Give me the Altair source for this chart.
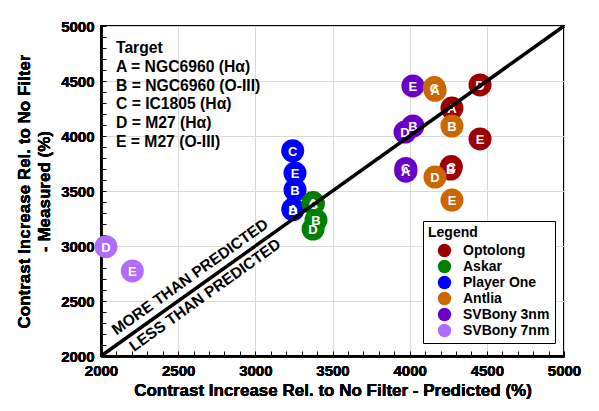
"""Scatter of measured vs predicted contrast increase for narrowband filters."""

import altair as alt
import pandas as pd


FONT = "Liberation Sans"
PLOT_WIDTH = 463
PLOT_HEIGHT = 330

brands = ["Optolong", "Askar", "Player One", "Antlia", "SVBony 3nm", "SVBony 7nm"]
brand_colors = ["#9c0000", "#008000", "#0000ff", "#cc6600", "#6a00c8", "#b26bff"]
draw_rank = [3, 2, 1, 5, 4, 6]

optolong_targets = ["A", "B", "C", "D", "E"]
optolong_pred = [4274, 4265, 4270, 4456, 4456]
optolong_meas = [4254, 3700, 3722, 4464, 3973]

askar_targets = ["A", "C", "B", "D"]
askar_pred = [3374, 3376, 3393, 3374]
askar_meas = [3395, 3385, 3236, 3154]

player_one_targets = ["D", "A", "B", "E", "C"]
player_one_pred = [3244, 3244, 3257, 3257, 3242]
player_one_meas = [3330, 3336, 3509, 3663, 3866]

antlia_targets = ["A", "C", "B", "D", "E"]
antlia_pred = [4165, 4160, 4274, 4164, 4274]
antlia_meas = [4415, 4440, 4091, 3627, 3418]

svbony3_targets = ["A", "C", "D", "B", "E"]
svbony3_pred = [3975, 3975, 3970, 4021, 4021]
svbony3_meas = [3680, 3705, 4036, 4091, 4455]

svbony7_targets = ["D", "E"]
svbony7_pred = [2032, 2203]
svbony7_meas = [2994, 2773]

target_lines = [
    "Target",
    "A = NGC6960 (Hα)",
    "B = NGC6960 (O-III)",
    "C = IC1805 (Hα)",
    "D = M27 (Hα)",
    "E = M27 (O-III)",
]

axis_range = [2000, 5000]
tick_values = list(range(2000, 5001, 100))
grid_values = list(range(2000, 5001, 500))

series = [
    (optolong_targets, optolong_pred, optolong_meas),
    (askar_targets, askar_pred, askar_meas),
    (player_one_targets, player_one_pred, player_one_meas),
    (antlia_targets, antlia_pred, antlia_meas),
    (svbony3_targets, svbony3_pred, svbony3_meas),
    (svbony7_targets, svbony7_pred, svbony7_meas),
]

rows = []
for brand, rank, (targets, pred, meas) in zip(brands, draw_rank, series):
    for i, (t, p, m) in enumerate(zip(targets, pred, meas)):
        rows.append({"brand": brand, "target": t, "predicted": p,
                     "measured": m, "rank": rank * 10 + i})
points_df = pd.DataFrame(rows)

diag_df = pd.DataFrame({"predicted": axis_range, "measured": axis_range})
target_df = pd.DataFrame({"predicted": [2097], "measured": [4860],
                          "label": ["\n".join(target_lines)]})
zone_df = pd.DataFrame({"predicted": [2577, 2674], "measured": [2718, 2554],
                        "label": ["MORE THAN PREDICTED", "LESS THAN PREDICTED"]})

x_scale = alt.Scale(domain=axis_range, nice=False)
y_scale = alt.Scale(domain=axis_range, nice=False)

main_x_axis = alt.Axis(
    orient="bottom", values=grid_values, format="d", ticks=False,
    title="Contrast Increase Rel. to No Filter - Predicted (%)",
    titlePadding=4, labelPadding=7, labelFlush=False, grid=True,
)
main_y_axis = alt.Axis(
    orient="left", values=grid_values, format="d", ticks=False,
    title=["Contrast Increase Rel. to No Filter", "- Measured (%)"],
    titleLineHeight=20, titlePadding=7, labelPadding=7, labelFlush=False,
    grid=True,
)
tick_x_axis = alt.Axis(
    orient="bottom", values=tick_values, labels=False, domain=False,
    grid=False, tickSize=5, offset=-5, title="",
)
tick_y_axis = alt.Axis(
    orient="left", values=tick_values, labels=False, domain=False,
    grid=False, tickSize=5, offset=-5, title="",
)

points = alt.Chart(points_df).mark_circle(size=530, opacity=1).encode(
    x=alt.X("predicted:Q", scale=x_scale, axis=main_x_axis),
    y=alt.Y("measured:Q", scale=y_scale, axis=main_y_axis),
    color=alt.Color(
        "brand:N",
        scale=alt.Scale(domain=brands, range=brand_colors),
        legend=alt.Legend(
            title="Legend", orient="none", legendX=322, legendY=195,
            symbolType="circle", symbolSize=180, symbolOffset=9,
            labelOffset=11, rowPadding=1, padding=5, titlePadding=3,
            fillColor="white", strokeColor="black",
        ),
    ),
    order=alt.Order("rank:Q"),
)

letters = alt.Chart(points_df).mark_text(
    color="white", fontWeight="bold", fontSize=13, baseline="middle", dy=1,
).encode(
    x=alt.X("predicted:Q", scale=x_scale, axis=main_x_axis),
    y=alt.Y("measured:Q", scale=y_scale, axis=main_y_axis),
    text="target:N",
    order=alt.Order("rank:Q"),
)

diagonal = alt.Chart(diag_df).mark_line(color="black", strokeWidth=3.5).encode(
    x=alt.X("predicted:Q", scale=x_scale, axis=tick_x_axis),
    y=alt.Y("measured:Q", scale=y_scale, axis=tick_y_axis),
)

target_text = alt.Chart(target_df).mark_text(
    align="left", baseline="top", fontSize=15.7, fontWeight="bold",
    lineBreak="\n", lineHeight=18.7, color="black",
).encode(
    x=alt.X("predicted:Q", scale=x_scale, axis=main_x_axis),
    y=alt.Y("measured:Q", scale=y_scale, axis=main_y_axis),
    text="label:N",
)

zone_text = alt.Chart(zone_df).mark_text(
    align="center", baseline="middle", fontSize=15.5, fontWeight="bold",
    angle=324.5, color="black",
).encode(
    x=alt.X("predicted:Q", scale=x_scale, axis=main_x_axis),
    y=alt.Y("measured:Q", scale=y_scale, axis=main_y_axis),
    text="label:N",
)

chart = alt.layer(
    points, letters, target_text, zone_text, diagonal,
).resolve_axis(
    x="independent", y="independent",
).properties(
    width=PLOT_WIDTH,
    height=PLOT_HEIGHT,
    padding={"left": 93, "top": 18, "right": 20, "bottom": 55},
    autosize=alt.AutoSizeParams(type="none"),
).configure(
    font=FONT,
).configure_axis(
    labelFont=FONT, labelFontSize=15, labelFontWeight="bold", labelColor="black",
    titleFont=FONT, titleFontSize=17, titleFontWeight="bold", titleColor="black",
    domainColor="black", domainWidth=2, tickColor="black", tickWidth=1,
    gridColor="#d9d9d9", gridWidth=1,
).configure_legend(
    labelFont=FONT, labelFontSize=14, labelFontWeight="bold", labelColor="black",
    titleFont=FONT, titleFontSize=14, titleFontWeight="bold", titleColor="black",
).configure_view(
    stroke="black", strokeWidth=2,
)

chart.save("out.html", embed_options={"renderer": "svg", "actions": False})
